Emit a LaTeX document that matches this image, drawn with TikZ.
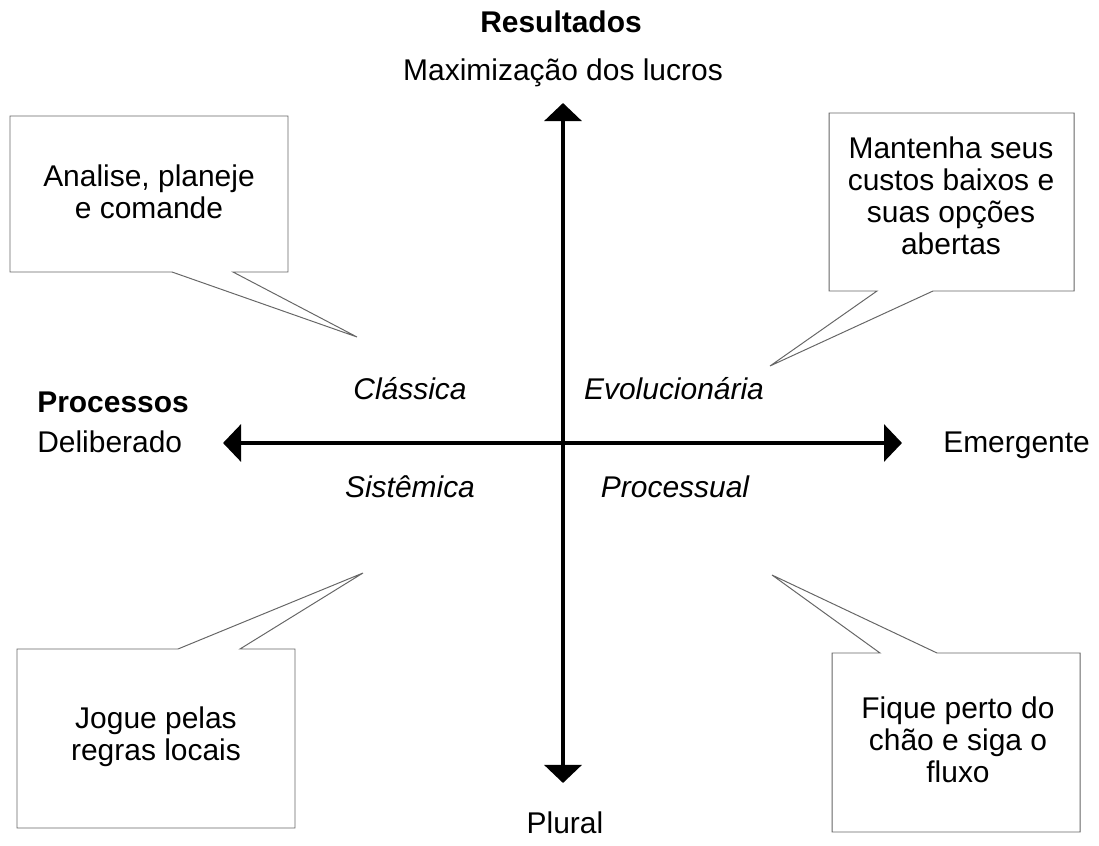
\documentclass[tikz,border=0pt]{standalone}
\usepackage{fontspec}
\setmainfont{Liberation Sans}
\usepackage{tikz}
\usetikzlibrary{arrows.meta, positioning}

\newcommand{\lblfont}{\fontsize{21.3}{22.8}\selectfont}

\begin{document}
\begin{tikzpicture}[x=0.025cm, y=-0.025cm,
        lbl/.style={font=\lblfont, inner sep=0pt},
        quad/.style={font=\lblfont\itshape, inner sep=0pt, anchor=base},
        balloon/.style={draw=black!60, line width=0.7pt, line join=miter},
        btext/.style={font=\lblfont, inner sep=0pt, align=center},
        axis/.style={line width=2.8pt, {Triangle[length=0.45cm, width=0.92cm]}-{Triangle[length=0.45cm, width=0.92cm]}}]
    \useasboundingbox (0,0) rectangle (1099,846);

    % eixos
    \coordinate (top) at (563,103);
    \coordinate (bottom) at (563,783);
    \coordinate (left) at (223,443);
    \coordinate (right) at (902,443);
    \draw[axis] (bottom) -- (top);
    \draw[axis] (left) -- (right);

    % rotulos dos eixos
    \node[lbl, font=\lblfont\bfseries, anchor=base] (res) at (561,33) {Resultados};
    \node[lbl, anchor=base] (maxlucro) at (563,81) {Maximização dos lucros};
    \node[lbl, font=\lblfont\bfseries, anchor=base west] (proc) at (37,412) {Processos};
    \node[lbl, anchor=base west] (delib) at (37,452) {Deliberado};
    \node[lbl, anchor=base west] (emerg) at (943,452) {Emergente};
    \node[lbl, anchor=base] (plural) at (565,833) {Plural};

    % quadrantes
    \node[quad] (classica) at (410,399) {Clássica};
    \node[quad] (evol) at (674,399) {Evolucionária};
    \node[quad] (sist) at (410,497) {Sistêmica};
    \node[quad] (processual) at (675,497) {Processual};

    % baloes
    \coordinate (tipA) at (357,337);
    \draw[balloon] (10,116) -- (288,116) -- (288,272) -- (233,272) -- (tipA) -- (172,272) -- (10,272) -- cycle;
    \node[btext] (analise) at (149,192) {Analise, planeje\\e comande};

    \coordinate (tipB) at (770,366);
    \draw[balloon] (829,113) -- (1074,113) -- (1074,291) -- (933,291) -- (tipB) -- (877,291) -- (829,291) -- cycle;
    \node[btext] (mantenha) at (951,196) {Mantenha seus\\custos baixos e\\suas opções\\abertas};

    \coordinate (tipC) at (363,573);
    \draw[balloon] (17,649) -- (178,649) -- (tipC) -- (240,649) -- (295,649) -- (295,828) -- (17,828) -- cycle;
    \node[btext] (jogue) at (156,737) {Jogue pelas\\regras locais};

    \coordinate (tipD) at (772,575);
    \draw[balloon] (832,653) -- (880,653) -- (tipD) -- (937,653) -- (1080,653) -- (1080,832) -- (832,832) -- cycle;
    \node[btext] (fique) at (958,740) {Fique perto do\\chão e siga o\\fluxo};
\end{tikzpicture}
\end{document}
